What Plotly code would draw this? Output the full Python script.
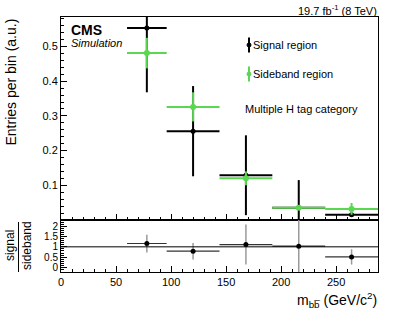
import plotly.graph_objects as go

# ---- data ----
bin_lo = [60, 96, 144, 192, 240]
bin_hi = [96, 144, 192, 240, 288]
signal = [0.553, 0.256, 0.129, 0.035, 0.015]
signal_err = [0.185, 0.13, 0.115, 0.08, 0.005]
sideband = [0.481, 0.326, 0.120, 0.035, 0.032]
sideband_err = [0.044, 0.042, 0.02, 0.005, 0.017]
ratio = [1.16, 0.79, 1.11, 1.03, 0.51]
ratio_err = [0.43, 0.40, 0.97, 1.6, 0.37]
xticks = [0, 50, 100, 150, 200, 250]
yticks_main = [0.1, 0.2, 0.3, 0.4, 0.5]
yticks_ratio = [0, 0.5, 1, 1.5, 2]

centers = [(a + b) / 2 for a, b in zip(bin_lo, bin_hi)]
halfw = [(b - a) / 2 for a, b in zip(bin_lo, bin_hi)]

GREEN = "rgb(90,215,80)"
FONT = "Liberation Sans, Arial, sans-serif"

W, H = 407, 315
L, R, T, B = 61, 29, 17, 43
pw, ph = W - L - R, H - T - B
split = (272 - 220) / ph

def px(x):
    return (x - L) / pw

def py(y):
    return (H - B - y) / ph

fig = go.Figure()

fig.add_trace(go.Scatter(
    x=centers, y=signal, mode="markers", xaxis="x", yaxis="y",
    marker=dict(color="black", size=5),
    error_x=dict(type="data", array=halfw, color="black", thickness=2, width=0),
    error_y=dict(type="data", array=signal_err, color="black", thickness=2, width=0),
    showlegend=False))
fig.add_trace(go.Scatter(
    x=centers, y=sideband, mode="markers", xaxis="x", yaxis="y",
    marker=dict(color=GREEN, size=6),
    error_x=dict(type="data", array=halfw, color=GREEN, thickness=2, width=0),
    error_y=dict(type="data", array=sideband_err, color=GREEN, thickness=2, width=0),
    showlegend=False))
fig.add_trace(go.Scatter(
    x=centers, y=ratio, mode="markers", xaxis="x2", yaxis="y2",
    marker=dict(color="black", size=5),
    error_x=dict(type="data", array=halfw, color="#333333", thickness=1.2, width=0, copy_ystyle=False),
    error_y=dict(type="data", array=ratio_err, color="#9a9a9a", thickness=1.5, width=0),
    showlegend=False))

axis_common = dict(
    showline=True, linecolor="black", linewidth=1, mirror=True,
    ticks="inside", tickcolor="black", ticklen=6, tickwidth=1,
    showgrid=False, zeroline=False, automargin=False,
)

fig.update_layout(
    width=W, height=H,
    margin=dict(l=L, r=R, t=T, b=B),
    paper_bgcolor="white", plot_bgcolor="white",
    font=dict(family=FONT, color="black"),
    xaxis=dict(domain=[0, 1], range=[0, 288], anchor="y", tickvals=xticks,
               showticklabels=False,
               minor=dict(ticks="inside", ticklen=3, dtick=10, tick0=0, tickcolor="black"),
               **axis_common),
    yaxis=dict(domain=[split, 1], range=[0, 0.585], anchor="x", tickvals=yticks_main,
               tickfont=dict(family=FONT, size=11, color="black"),
               minor=dict(ticks="inside", ticklen=3, dtick=0.02, tick0=0, tickcolor="black"),
               **axis_common),
    xaxis2=dict(domain=[0, 1], range=[0, 288], anchor="y2", tickvals=xticks,
                tickfont=dict(family=FONT, size=11, color="black"),
                minor=dict(ticks="inside", ticklen=3, dtick=10, tick0=0, tickcolor="black"),
                **axis_common),
    yaxis2=dict(domain=[0, split], range=[-0.22, 2.3], anchor="x2", tickvals=yticks_ratio,
                ticktext=["0", "0.5", "1", "1.5", "2"],
                tickfont=dict(family=FONT, size=10, color="black"),
                minor=dict(ticks="inside", ticklen=3, dtick=0.1, tick0=0, tickcolor="black"),
                **axis_common),
)

# reference line at ratio 1
fig.add_shape(type="line", xref="x2 domain", yref="y2", x0=0, x1=1, y0=1, y1=1,
              line=dict(color="black", width=1))

# legend symbols (decorative)
for yc, col in [(45, "black"), (74, GREEN)]:
    fig.add_shape(type="line", xref="paper", yref="paper",
                  x0=px(249), x1=px(249), y0=py(yc - 7.5), y1=py(yc + 7.5),
                  line=dict(color=col, width=2))
    fig.add_shape(type="circle", xref="paper", yref="paper",
                  x0=px(247), x1=px(251), y0=py(yc + 2), y1=py(yc - 2),
                  line=dict(color=col, width=1), fillcolor=col)

ann = [
    dict(text="<b>CMS</b>", x=px(69), y=py(30), xanchor="left", yanchor="middle", size=14),
    dict(text="<i>Simulation</i>", x=px(69), y=py(43), xanchor="left", yanchor="middle", size=11),
    dict(text="19.7 fb<sup>-1</sup> (8 TeV)", x=px(379), y=py(10), xanchor="right", yanchor="middle", size=11),
    dict(text="Signal region", x=px(251), y=py(45), xanchor="left", yanchor="middle", size=11),
    dict(text="Sideband region", x=px(251), y=py(74), xanchor="left", yanchor="middle", size=11),
    dict(text="Multiple H tag category", x=px(243), y=py(109), xanchor="left", yanchor="middle", size=11),
    dict(text="m<sub>bb\u0305</sub> (GeV/c<sup>2</sup>)", x=px(379), y=py(300), xanchor="right", yanchor="middle", size=14),
]
for a in ann:
    fig.add_annotation(text=a["text"], x=a["x"], y=a["y"], xref="paper", yref="paper",
                       xanchor=a["xanchor"], yanchor=a["yanchor"], showarrow=False,
                       font=dict(family=FONT, size=a["size"], color="black"))

fig.add_annotation(text="Entries per bin (a.u.)", x=px(10), y=py(17), xref="paper", yref="paper",
                   xanchor="center", yanchor="top", textangle=-90, showarrow=False,
                   font=dict(family=FONT, size=14, color="black"))
fig.add_annotation(text="signal", x=px(10), y=py(246), xref="paper", yref="paper",
                   xanchor="center", yanchor="middle", textangle=-90, showarrow=False,
                   font=dict(family=FONT, size=12, color="black"))
fig.add_annotation(text="sideband", x=px(27), y=py(246), xref="paper", yref="paper",
                   xanchor="center", yanchor="middle", textangle=-90, showarrow=False,
                   font=dict(family=FONT, size=12, color="black"))
fig.add_shape(type="line", xref="paper", yref="paper", x0=px(18.5), x1=px(18.5),
              y0=py(222), y1=py(272), line=dict(color="black", width=1))

fig.write_html("out.html", config={"displayModeBar": False},
               post_script="document.body.style.margin='0px';document.body.style.padding='0px';")
